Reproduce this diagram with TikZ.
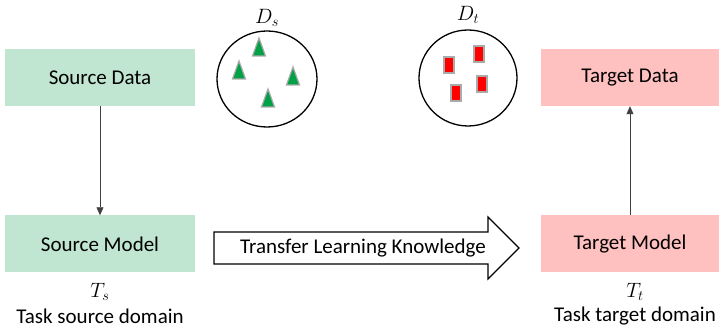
\documentclass[tikz,border=0pt]{standalone}
\usepackage{fontspec}
\setmainfont{Carlito}
\usetikzlibrary{arrows.meta}
\definecolor{srcgreen}{RGB}{192,230,210}
\definecolor{tgtpink}{RGB}{255,192,192}
\definecolor{trigreen}{RGB}{0,160,70}
\definecolor{edgegray}{RGB}{170,170,170}
\begin{document}
\begin{tikzpicture}[x=1pt,y=-1pt,
  srcbox/.style={fill=srcgreen,draw=none,minimum width=190pt,minimum height=57pt,inner sep=0pt,font=\fontsize{21}{24}\selectfont},
  tgtbox/.style={fill=tgtpink,draw=none,minimum width=178pt,minimum height=57pt,inner sep=0pt,font=\fontsize{21}{24}\selectfont},
  lbl/.style={font=\fontsize{21}{24}\selectfont,inner sep=0pt},
  conn/.style={draw=black!75,-{Triangle[length=8pt,width=7pt]},line width=0.6pt},
  gtri/.style={fill=trigreen,draw=edgegray,line width=1.2pt,line join=miter},
  redrect/.style={fill=red,draw=edgegray,line width=1.2pt},
  domcircle/.style={draw=black,line width=1.3pt},
  bigarrow/.style={draw=black,line width=1.2pt,fill=white,line join=miter}]
\useasboundingbox (0,0) rectangle (721,328);
\node[srcbox] (sd) at (100,77.5) {Source Data};
\node[srcbox] (sm) at (100,244) {Source Model};
\node[tgtbox] (td) at (630,77.5) {Target Data};
\node[tgtbox] (tm) at (630,244) {Target Model};
\draw[conn] (sd.south) -- (sm.north);
\draw[conn] (tm.north) -- (td.south);
\node[lbl] (ts) at (100,292) {$T_s$};
\node[lbl] (tsd) at (100,316) {Task source domain};
\node[lbl] (tt) at (635,292) {$T_t$};
\node[lbl] (ttd) at (635,316) {Task target domain};
% transfer arrow
\draw[bigarrow] (214,232) -- (488,232) -- (488,217) -- (519,248) -- (488,279) -- (488,264) -- (214,264) -- cycle;
\node[lbl] (tl) at (363,248) {Transfer Learning Knowledge};
% domains
\draw[domcircle] (267,79) ellipse (50pt and 48pt);
\node[lbl] (ds) at (267,18) {$D_s$};
\draw[domcircle] (468,78) ellipse (49pt and 48pt);
\node[lbl] (dt) at (468,15) {$D_t$};
\foreach \x/\y in {259/47,239/70,293/76,268/98}{
  \draw[gtri] (\x-6.5,\y+9) -- (\x,\y-9) -- (\x+6.5,\y+9) -- cycle;
}
\foreach \x/\y in {479/54,449/65,482/84,456/93}{
  \draw[redrect] (\x-5,\y-8) rectangle (\x+5,\y+8);
}
\end{tikzpicture}
\end{document}
